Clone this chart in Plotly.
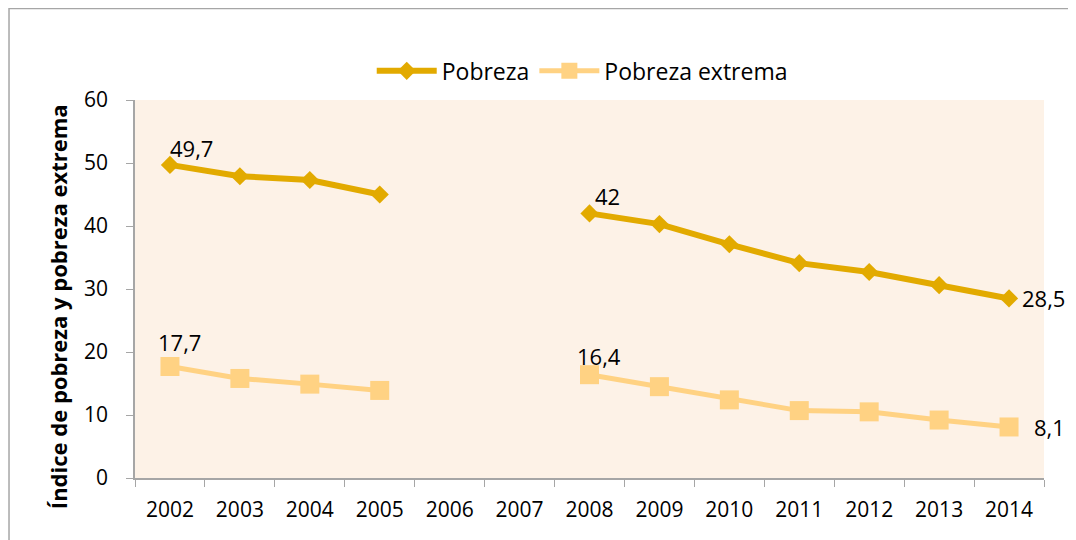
import plotly.graph_objects as go

years = ["2002", "2003", "2004", "2005", "2006", "2007", "2008",
         "2009", "2010", "2011", "2012", "2013", "2014"]
pobreza = [49.7, 47.9, 47.3, 45.0, None, None, 42.0, 40.3, 37.1, 34.1, 32.7, 30.6, 28.5]
pobreza_extrema = [17.7, 15.8, 14.9, 13.9, None, None, 16.4, 14.5, 12.4, 10.7, 10.5, 9.2, 8.1]
y_ticks = [0, 10, 20, 30, 40, 50, 60]
y_title = "Índice de pobreza y pobreza extrema"

# years that carry a data label, with label offsets (pixels)
pob_labels = {"2002": (22, 17), "2008": (18, 17), "2014": (34, 0)}
ext_labels = {"2002": (10, 24), "2008": (9, 19), "2014": (40, 0)}

FONT = "Open Sans"
C_POB = "#E2AA00"
C_EXT = "#FFD283"


def fmt(v):
    s = ("%.1f" % v)
    if s.endswith(".0"):
        s = s[:-2]
    return s.replace(".", ",")


fig = go.Figure()
fig.add_trace(go.Scatter(
    x=years, y=pobreza, name="Pobreza", mode="lines+markers",
    line=dict(color=C_POB, width=6),
    marker=dict(symbol="diamond", size=14, color=C_POB),
    connectgaps=False,
))
fig.add_trace(go.Scatter(
    x=years, y=pobreza_extrema, name="Pobreza extrema", mode="lines+markers",
    line=dict(color=C_EXT, width=5),
    marker=dict(symbol="square", size=19, color=C_EXT),
    connectgaps=False,
))

annotations = []
for series, labels in ((pobreza, pob_labels), (pobreza_extrema, ext_labels)):
    for yr, (dx, dy) in labels.items():
        i = years.index(yr)
        v = series[i]
        annotations.append(dict(
            x=i, y=v, xref="x", yref="y", text=fmt(v), showarrow=False,
            xshift=dx, yshift=dy, font=dict(family=FONT, size=22, color="#000000"),
        ))

annotations.append(dict(
    x=-0.0847, y=0.452, xref="paper", yref="paper", text="<b>%s</b>" % y_title,
    textangle=-90, showarrow=False, xanchor="center", yanchor="middle",
    font=dict(family=FONT, size=22, color="#000000"),
))

fig.update_layout(
    width=1068, height=532,
    margin=dict(l=127, r=32, t=92, b=62),
    paper_bgcolor="white",
    plot_bgcolor="#FDF2E7",
    font=dict(family=FONT, size=21, color="#000000"),
    showlegend=True,
    legend=dict(orientation="h", x=0.492, xanchor="center", y=1.077, yanchor="middle",
                font=dict(family=FONT, size=23), bgcolor="rgba(0,0,0,0)",
                tracegroupgap=0, itemwidth=60),
    annotations=annotations,
    shapes=[dict(type="rect", xref="paper", yref="paper",
                 x0=-0.1386, x1=1.12, y0=-0.2, y1=1.242,
                 line=dict(color="#A6A6A6", width=1.5), layer="below")],
)
fig.update_xaxes(
    type="category", categoryorder="array", categoryarray=years,
    range=[-0.5, len(years) - 0.5],
    showline=True, linecolor="#A6A6A6", linewidth=1.5,
    ticks="outside", tickson="boundaries", ticklen=7, tickcolor="#A6A6A6",
    showgrid=False, zeroline=False, ticklabelstandoff=12, tickangle=0,
    tickfont=dict(family=FONT, size=21),
)
fig.update_yaxes(
    range=[0, 60], tickvals=y_ticks,
    showline=True, linecolor="#A6A6A6", linewidth=1.5,
    ticks="outside", ticklen=7, tickcolor="#A6A6A6",
    showgrid=False, zeroline=False, ticklabelstandoff=14,
    tickfont=dict(family=FONT, size=21),
)

fig.write_html("out.html")
